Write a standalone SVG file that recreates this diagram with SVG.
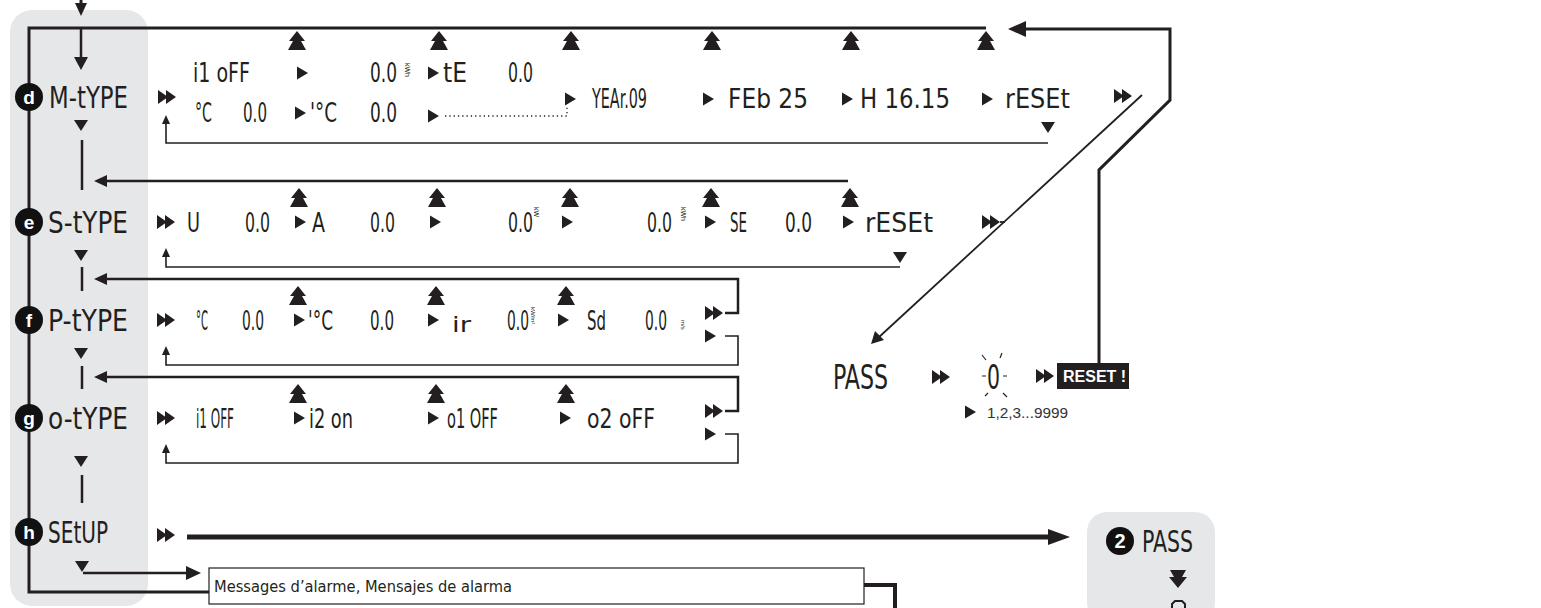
<svg xmlns="http://www.w3.org/2000/svg" width="1541" height="608" viewBox="0 0 1541 608">
<style>
.lcd{font-family:"Liberation Sans Narrow","DejaVu Sans Condensed","Liberation Sans",sans-serif;font-size:27px;fill:#231f20}
.lbl{font-family:"Liberation Sans Narrow","DejaVu Sans Condensed","Liberation Sans",sans-serif;font-size:31px;fill:#231f20}
.unit{font-family:"Liberation Sans",Arial,sans-serif;font-size:7px;fill:#231f20}
.badge{font-family:"Liberation Sans",Arial,sans-serif;font-weight:bold;font-size:19px;fill:#fff;text-anchor:middle}
.ln{fill:none;stroke:#231f20;stroke-width:3}
.thin{fill:none;stroke:#231f20;stroke-width:1.6}
.sym{fill:#231f20}
.panel{fill:#e6e7e8}
</style>
<defs>
<path id="up2" d="M0,0 L8,10 L4,10 L9,19 L-9,19 L-4,10 L-8,10 Z"/>
<path id="tri" d="M0,-6.5 L11,0 L0,6.5 Z"/>
<path id="dbl" d="M0,-7 L10,0 L0,7 Z M8,-7 L18,0 L8,7 Z"/>
<path id="dn" d="M-7,0 H7 L0,11 Z"/>
<path id="dn2" d="M-8,0 H8 L4,7 H9 L0,18 L-9,7 H-4 Z"/>
<path id="upa" d="M0,0 L4,9 H-4 Z"/>
<path id="lefta" d="M0,0 L13,-6 V6 Z"/>
</defs>

<rect class="panel" x="10" y="10" width="138" height="596" rx="22"/>
<rect class="panel" x="1087" y="512" width="128" height="110" rx="20"/>

<g id="connectors">
  <path class="ln" d="M81,0 V6"/>
  <path class="sym" d="M75,3 H87 L81,16 Z"/>
  <path class="ln" d="M209,592 H29 V28 H986"/>
  <path class="ln" d="M81,28 V58" style="stroke-width:2.5"/>
  <path class="sym" d="M74,57 H88 L81,70 Z"/>
  <path class="ln" d="M848,181 H104" style="stroke-width:2.5"/>
  <use href="#lefta" x="94" y="181" class="sym"/>
  <path class="ln" d="M725,313 H738 V279 H104" style="stroke-width:2.5"/>
  <use href="#lefta" x="94" y="279" class="sym"/>
  <path class="ln" d="M725,411 H738 V377 H104" style="stroke-width:2.5"/>
  <use href="#lefta" x="94" y="377" class="sym"/>
  <path class="thin" d="M1048,143 H166 V122"/>
  <use href="#upa" x="166" y="115" class="sym"/>
  <path class="thin" d="M900,267 H166 V255"/>
  <use href="#upa" x="166" y="248" class="sym"/>
  <path class="thin" d="M725,336 H738 V365 H166 V353"/>
  <use href="#upa" x="166" y="346" class="sym"/>
  <path class="thin" d="M725,434 H738 V463 H166 V451"/>
  <use href="#upa" x="166" y="444" class="sym"/>
  <path class="ln" d="M82,140 V190 M82,267 V291 M82,366 V389 M82,475 V503" style="stroke-width:2.5"/>
  <path d="M445,116 H567 V106" fill="none" stroke="#231f20" stroke-width="1.3" stroke-dasharray="1.3 3"/>
  <path class="ln" d="M187,537 H1052" style="stroke-width:5"/>
  <path class="sym" d="M1070,537 L1048,529 V545 Z"/>
  <path class="ln" d="M83,573 H188" style="stroke-width:2.5"/>
  <path class="sym" d="M201,573 L186,566 V580 Z"/>
  <path class="ln" d="M864,585 H895 V608" style="stroke-width:4"/>
  <path class="ln" d="M1099,363 V170 L1170,100 V29 H1024"/>
  <path class="sym" d="M1008,29 L1026,21 V37 Z"/>
  <path class="thin" d="M1142,95 L878,338" style="stroke-width:1.8"/>
  <path class="sym" d="M871,344 L875,331 L884,340 Z"/>
  <path class="thin" d="M1000,222 H1005" style="stroke-width:1.8"/>
</g>

<g id="node-d">
  <circle cx="29" cy="97" r="14" fill="#111"/>
  <text class="badge" x="29" y="104">d</text>
  <text class="lbl" x="49" y="108" textLength="79" lengthAdjust="spacingAndGlyphs">M-tYPE</text>
  <use href="#dn" x="81" y="120" class="sym"/>
  <use href="#dbl" x="158" y="97" class="sym"/>
  <use href="#up2" x="297" y="31" class="sym"/>
  <use href="#up2" x="439" y="31" class="sym"/>
  <use href="#up2" x="571" y="31" class="sym"/>
  <use href="#up2" x="712" y="31" class="sym"/>
  <use href="#up2" x="851" y="31" class="sym"/>
  <use href="#up2" x="986" y="31" class="sym"/>
  <text class="lcd" x="193" y="82" textLength="57" lengthAdjust="spacingAndGlyphs">i1 oFF</text>
  <use href="#tri" x="297" y="73" class="sym"/>
  <text class="lcd" x="370" y="82" textLength="27" lengthAdjust="spacingAndGlyphs">0.0</text>
  <text class="unit" transform="translate(405,63) rotate(90)">kWh</text>
  <use href="#tri" x="428" y="73" class="sym"/>
  <text class="lcd" x="443" y="82" textLength="24" lengthAdjust="spacingAndGlyphs">tE</text>
  <text class="lcd" x="508" y="82" textLength="25" lengthAdjust="spacingAndGlyphs">0.0</text>
  <text class="lcd" x="195" y="122" textLength="17" lengthAdjust="spacingAndGlyphs">°C</text>
  <text class="lcd" x="243" y="122" textLength="24" lengthAdjust="spacingAndGlyphs">0.0</text>
  <use href="#tri" x="295" y="113" class="sym"/>
  <text class="lcd" x="310" y="122" textLength="27" lengthAdjust="spacingAndGlyphs">'°C</text>
  <text class="lcd" x="370" y="122" textLength="27" lengthAdjust="spacingAndGlyphs">0.0</text>
  <use href="#tri" x="428" y="116" class="sym"/>
  <use href="#tri" x="565" y="99" class="sym"/>
  <text class="lcd" x="592" y="108" textLength="55" lengthAdjust="spacingAndGlyphs">YEAr.09</text>
  <use href="#tri" x="703" y="99" class="sym"/>
  <text class="lcd" x="728" y="108" textLength="80" lengthAdjust="spacingAndGlyphs">FEb 25</text>
  <use href="#tri" x="842" y="99" class="sym"/>
  <text class="lcd" x="860" y="108" textLength="90" lengthAdjust="spacingAndGlyphs">H 16.15</text>
  <use href="#tri" x="982" y="99" class="sym"/>
  <text class="lcd" x="1005" y="108" textLength="65" lengthAdjust="spacingAndGlyphs">rESEt</text>
  <use href="#dn" x="1048" y="122" class="sym"/>
  <use href="#dbl" x="1114" y="96" class="sym"/>
</g>

<g id="node-e">
  <circle cx="29" cy="222" r="14" fill="#111"/>
  <text class="badge" x="29" y="229">e</text>
  <text class="lbl" x="48" y="233" textLength="80" lengthAdjust="spacingAndGlyphs">S-tYPE</text>
  <use href="#dn" x="81" y="250" class="sym"/>
  <use href="#dbl" x="157" y="222" class="sym"/>
  <text class="lcd" x="187" y="232" textLength="13" lengthAdjust="spacingAndGlyphs">U</text>
  <text class="lcd" x="245" y="232" textLength="25" lengthAdjust="spacingAndGlyphs">0.0</text>
  <use href="#up2" x="299" y="188" class="sym"/>
  <use href="#tri" x="295" y="222" class="sym"/>
  <text class="lcd" x="312" y="232" textLength="13" lengthAdjust="spacingAndGlyphs">A</text>
  <text class="lcd" x="370" y="232" textLength="25" lengthAdjust="spacingAndGlyphs">0.0</text>
  <use href="#up2" x="437" y="188" class="sym"/>
  <use href="#tri" x="430" y="222" class="sym"/>
  <text class="lcd" x="508" y="232" textLength="25" lengthAdjust="spacingAndGlyphs">0.0</text>
  <text class="unit" transform="translate(534,207) rotate(90)">kW</text>
  <use href="#up2" x="570" y="188" class="sym"/>
  <use href="#tri" x="562" y="222" class="sym"/>
  <text class="lcd" x="647" y="232" textLength="25" lengthAdjust="spacingAndGlyphs">0.0</text>
  <text class="unit" transform="translate(681,207) rotate(90)">kWh</text>
  <use href="#up2" x="711" y="188" class="sym"/>
  <use href="#tri" x="705" y="222" class="sym"/>
  <text class="lcd" x="730" y="232" textLength="17" lengthAdjust="spacingAndGlyphs">SE</text>
  <text class="lcd" x="785" y="232" textLength="27" lengthAdjust="spacingAndGlyphs">0.0</text>
  <use href="#up2" x="850" y="188" class="sym"/>
  <use href="#tri" x="843" y="222" class="sym"/>
  <text class="lcd" x="865" y="232" textLength="68" lengthAdjust="spacingAndGlyphs">rESEt</text>
  <use href="#dn" x="900" y="252" class="sym"/>
  <use href="#dbl" x="982" y="222" class="sym"/>
</g>

<g id="node-f">
  <circle cx="29" cy="320" r="14" fill="#111"/>
  <text class="badge" x="29" y="327">f</text>
  <text class="lbl" x="48" y="331" textLength="80" lengthAdjust="spacingAndGlyphs">P-tYPE</text>
  <use href="#dn" x="81" y="348" class="sym"/>
  <use href="#dbl" x="157" y="320" class="sym"/>
  <text class="lcd" x="196" y="330" textLength="12" lengthAdjust="spacingAndGlyphs">°C</text>
  <text class="lcd" x="242" y="330" textLength="22" lengthAdjust="spacingAndGlyphs">0.0</text>
  <use href="#up2" x="298" y="286" class="sym"/>
  <use href="#tri" x="294" y="320" class="sym"/>
  <text class="lcd" x="308" y="330" textLength="25" lengthAdjust="spacingAndGlyphs">'°C</text>
  <text class="lcd" x="370" y="330" textLength="24" lengthAdjust="spacingAndGlyphs">0.0</text>
  <use href="#up2" x="436" y="286" class="sym"/>
  <use href="#tri" x="428" y="320" class="sym"/>
  <text class="lcd" x="452" y="332" style="font-size:22px" textLength="19" lengthAdjust="spacingAndGlyphs">ir</text>
  <text class="lcd" x="507" y="330" textLength="22" lengthAdjust="spacingAndGlyphs">0.0</text>
  <text class="unit" transform="translate(531,307) rotate(90)" style="font-size:6px">kW/m²</text>
  <use href="#up2" x="566" y="286" class="sym"/>
  <use href="#tri" x="558" y="320" class="sym"/>
  <text class="lcd" x="587" y="330" textLength="19" lengthAdjust="spacingAndGlyphs">Sd</text>
  <text class="lcd" x="645" y="330" textLength="22" lengthAdjust="spacingAndGlyphs">0.0</text>
  <text class="unit" transform="translate(681,320) rotate(90)" style="font-size:6px">m/s</text>
  <use href="#dbl" x="705" y="313" class="sym"/>
  <use href="#tri" x="705" y="336" class="sym"/>
</g>

<g id="node-g">
  <circle cx="29" cy="418" r="14" fill="#111"/>
  <text class="badge" x="29" y="425">g</text>
  <text class="lbl" x="48" y="429" textLength="80" lengthAdjust="spacingAndGlyphs">o-tYPE</text>
  <use href="#dn" x="81" y="456" class="sym"/>
  <use href="#dbl" x="157" y="418" class="sym"/>
  <text class="lcd" x="196" y="428" textLength="38" lengthAdjust="spacingAndGlyphs">i1 OFF</text>
  <use href="#up2" x="298" y="384" class="sym"/>
  <use href="#tri" x="294" y="418" class="sym"/>
  <text class="lcd" x="309" y="428" textLength="44" lengthAdjust="spacingAndGlyphs">i2 on</text>
  <use href="#up2" x="436" y="384" class="sym"/>
  <use href="#tri" x="428" y="418" class="sym"/>
  <text class="lcd" x="447" y="428" textLength="51" lengthAdjust="spacingAndGlyphs">o1 OFF</text>
  <use href="#up2" x="566" y="384" class="sym"/>
  <use href="#tri" x="560" y="418" class="sym"/>
  <text class="lcd" x="587" y="428" textLength="68" lengthAdjust="spacingAndGlyphs">o2 oFF</text>
  <use href="#dbl" x="705" y="411" class="sym"/>
  <use href="#tri" x="705" y="434" class="sym"/>
</g>

<g id="node-h">
  <circle cx="29" cy="532" r="14" fill="#111"/>
  <text class="badge" x="29" y="539">h</text>
  <text class="lbl" x="48" y="543" textLength="60" lengthAdjust="spacingAndGlyphs">SEtUP</text>
  <use href="#dbl" x="157" y="535" class="sym"/>
  <use href="#dn" x="82" y="561" class="sym"/>
</g>

<g id="node-messages">
  <rect x="209" y="568" width="655" height="36" fill="#fff" stroke="#231f20" stroke-width="1.2"/>
  <text x="214" y="592" style="font-family:'Liberation Sans Narrow','DejaVu Sans Condensed','Liberation Sans',sans-serif;font-size:16px;fill:#231f20" textLength="298" lengthAdjust="spacingAndGlyphs">Messages d’alarme, Mensajes de alarma</text>
</g>

<g id="node-pass">
  <text class="lbl" x="833" y="389" style="font-size:34px" textLength="55" lengthAdjust="spacingAndGlyphs">PASS</text>
  <use href="#dbl" x="932" y="377" class="sym"/>
  <text class="lbl" x="987" y="389" style="font-size:34px" textLength="13" lengthAdjust="spacingAndGlyphs">0</text>
  <path class="thin" style="stroke-width:1.2" d="M982,355 L986,360 M1002,353 L1000,358 M982,376 H986 M1003,376 H1007 M985,396 L988,393 M1007,397 L1003,393"/>
  <use href="#tri" x="965" y="412" class="sym"/>
  <text x="987" y="418" style="font-family:'Liberation Sans',Arial,sans-serif;font-size:14px;fill:#333" textLength="81" lengthAdjust="spacingAndGlyphs">1,2,3...9999</text>
  <use href="#dbl" x="1036" y="376" class="sym"/>
</g>

<g id="node-reset">
  <rect x="1057" y="363" width="72" height="26" fill="#231f20"/>
  <text x="1063" y="382" style="font-family:'Liberation Sans',Arial,sans-serif;font-weight:bold;font-size:16px;fill:#fff">RESET !</text>
</g>

<g id="node-pass2">
  <circle cx="1120" cy="541" r="14" fill="#111"/>
  <text class="badge" x="1120" y="548" style="font-size:20px">2</text>
  <text class="lbl" x="1142" y="552" textLength="51" lengthAdjust="spacingAndGlyphs">PASS</text>
  <use href="#dn2" x="1178" y="570" class="sym"/>
  <path d="M1172,608 V604 L1175,601 H1182 L1185,604 V608" fill="none" stroke="#231f20" stroke-width="2"/>
</g>
</svg>
